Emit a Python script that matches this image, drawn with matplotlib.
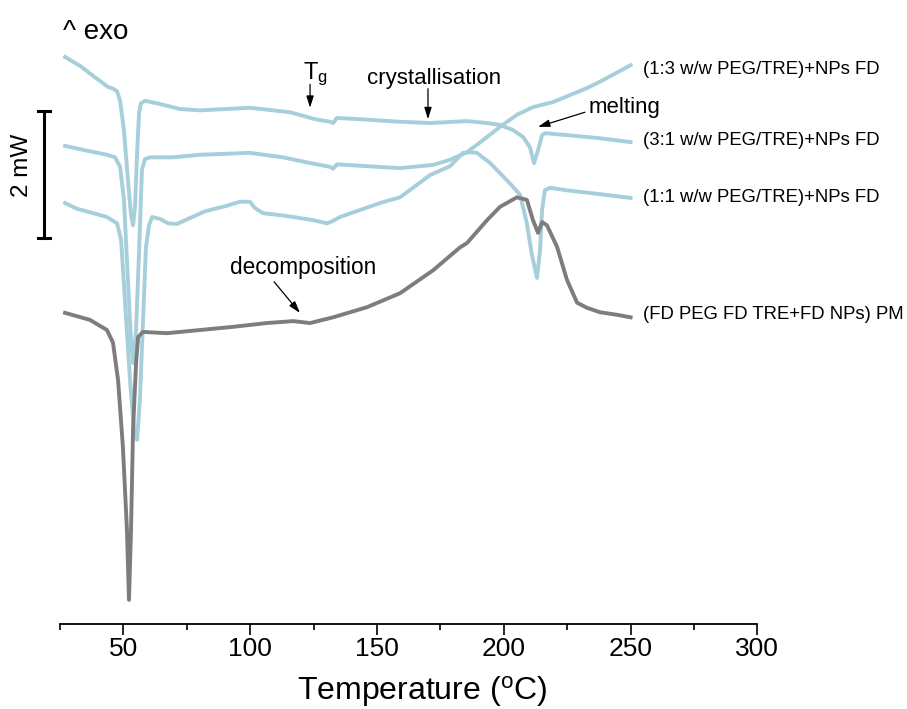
import matplotlib
matplotlib.use('Agg')
import matplotlib.pyplot as plt

plt.rcParams['font.family'] = ['Liberation Sans', 'DejaVu Sans']
plt.rcParams['mathtext.default'] = 'regular'

# DSC traces, temperature (C) vs heat flow (mW, curves stacked with offsets)
t_31 = [27.0, 32.9, 38.8, 43.9, 45.9, 47.5, 48.7, 50.2, 51.8, 53.0, 53.8, 54.6, 55.4, 56.2,
        56.9, 58.5, 64.4, 72.3, 80.2, 99.9, 115.7, 125.6, 131.5, 132.7, 134.2, 143.3, 159.1,
        170.9, 185.5, 193.4, 198.5, 203.6, 207.6, 210.3, 211.9, 213.5, 215.1, 216.2, 224.9,
        237.9, 250.0]
hf_31 = [8.93, 8.79, 8.61, 8.46, 8.43, 8.39, 8.24, 7.78, 6.99, 6.44, 6.28, 6.58, 7.42, 8.06,
         8.20, 8.24, 8.19, 8.11, 8.09, 8.13, 8.06, 7.95, 7.91, 7.89, 7.97, 7.95, 7.91,
         7.89, 7.92, 7.89, 7.86, 7.78, 7.67, 7.51, 7.26, 7.46, 7.70, 7.73, 7.70,
         7.65, 7.59]

t_13 = [27.0, 34.9, 43.5, 46.7, 48.7, 50.2, 51.8, 53.0, 53.8, 55.0, 56.2, 57.3, 58.5, 60.5,
        69.6, 80.2, 99.9, 112.9, 123.6, 131.5, 132.7, 134.2, 146.1, 159.1, 172.1, 178.8,
        185.5, 191.8, 198.5, 205.2, 211.5, 219.4, 232.8, 237.9, 250.0]
hf_13 = [7.53, 7.46, 7.39, 7.35, 7.20, 6.68, 5.42, 4.47, 4.11, 4.63, 5.89, 7.15, 7.32, 7.35,
         7.35, 7.39, 7.42, 7.35, 7.26, 7.20, 7.17, 7.24, 7.21, 7.18, 7.23, 7.31,
         7.43, 7.62, 7.83, 8.02, 8.14, 8.22, 8.44, 8.54, 8.80]

t_11 = [27.0, 31.7, 43.5, 47.5, 49.1, 50.6, 52.6, 54.2, 55.4, 56.5, 57.7, 58.9, 60.1, 61.3,
        64.4, 67.6, 71.1, 75.5, 82.2, 90.1, 96.0, 99.9, 101.9, 105.0, 113.7, 124.8, 130.3,
        132.7, 135.4, 151.2, 159.1, 164.2, 170.9, 178.8, 183.9, 186.7, 189.4, 194.6, 202.4,
        206.4, 209.1, 211.1, 213.1, 214.3, 215.1, 216.2, 218.2, 224.9, 237.9, 250.0]
hf_11 = [6.63, 6.54, 6.41, 6.31, 6.05, 5.10, 3.84, 3.06, 2.90, 3.53, 4.74, 5.94, 6.28, 6.41,
         6.38, 6.31, 6.30, 6.38, 6.50, 6.58, 6.65, 6.65, 6.55, 6.47, 6.43, 6.36, 6.31,
         6.35, 6.41, 6.63, 6.72, 6.87, 7.07, 7.21, 7.42, 7.43, 7.42, 7.26, 6.94,
         6.76, 6.31, 5.81, 5.45, 5.89, 6.52, 6.83, 6.87, 6.83, 6.77, 6.71]

t_pm = [27.0, 36.8, 43.5, 45.9, 47.9, 49.8, 51.4, 52.2, 53.0, 53.8, 55.0, 55.8, 57.7, 67.2,
        80.2, 93.2, 106.6, 116.9, 123.6, 132.7, 146.1, 159.1, 172.1, 182.7, 185.5, 193.4,
        198.5, 205.2, 209.1, 211.5, 213.5, 215.1, 217.0, 221.0, 224.9, 228.9, 232.8, 237.9,
        244.6, 250.0]
hf_pm = [4.90, 4.79, 4.63, 4.43, 3.84, 2.79, 1.48, 0.38, 1.48, 3.06, 4.11, 4.52, 4.60, 4.58,
         4.63, 4.68, 4.74, 4.77, 4.74, 4.83, 4.99, 5.21, 5.57, 5.93, 6.00, 6.36,
         6.57, 6.72, 6.68, 6.36, 6.16, 6.33, 6.28, 5.94, 5.42, 5.06, 4.98, 4.91,
         4.87, 4.83]

labels = ['(1:3 w/w PEG/TRE)+NPs FD', '(3:1 w/w PEG/TRE)+NPs FD',
          '(1:1 w/w PEG/TRE)+NPs FD', '(FD PEG FD TRE+FD NPs) PM']
label_y = [8.74, 7.61, 6.71, 4.88]

blue = '#a6cfdb'
grey = '#7d7d7d'

fig = plt.figure(figsize=(9.07, 7.09), dpi=100)
ax = fig.add_axes([60 / 907, 1 - 624 / 709, 697.4 / 907, 614 / 709])

ax.plot(t_31, hf_31, color=blue, lw=2.8, solid_joinstyle='round')
ax.plot(t_13, hf_13, color=blue, lw=2.8, solid_joinstyle='round')
ax.plot(t_11, hf_11, color=blue, lw=2.8, solid_joinstyle='round')
ax.plot(t_pm, hf_pm, color=grey, lw=2.8, solid_joinstyle='round')

for lab, y in zip(labels, label_y):
    ax.text(255, y, lab, fontsize=13.3, ha='left', va='center', clip_on=False)

arrow = dict(arrowstyle='-|>,head_length=0.7,head_width=0.22', color='k', lw=0.9,
             shrinkA=0, shrinkB=0)
ax.annotate('', xy=(123.6, 8.13), xytext=(123.6, 8.50), arrowprops=arrow)
ax.text(120.9, 8.58, 'T$_{g}$', fontsize=17, ha='left', va='baseline')
ax.annotate('', xy=(170.1, 7.95), xytext=(170.1, 8.43), arrowprops=arrow)
ax.text(172.5, 8.59, 'crystallisation', fontsize=16, ha='center', va='center')
ax.annotate('', xy=(213.5, 7.83), xytext=(232.0, 8.06), arrowprops=arrow)
ax.text(233.6, 8.14, 'melting', fontsize=16, ha='left', va='center')
ax.annotate('', xy=(119.6, 4.90), xytext=(109.4, 5.39), arrowprops=arrow)
ax.text(120.8, 5.61, 'decomposition', fontsize=16.3, ha='center', va='center')

# 2 mW scale bar
ax.plot([18.7, 18.7], [6.08, 8.08], color='k', lw=2.2, clip_on=False)
ax.plot([16.5, 20.9], [8.08, 8.08], color='k', lw=2.2, clip_on=False)
ax.plot([16.5, 20.9], [6.08, 6.08], color='k', lw=2.2, clip_on=False)
ax.text(10.0, 7.23, '2 mW', fontsize=17.5, rotation=90, ha='center', va='center')
ax.text(26.2, 9.22, '^ exo', fontsize=20, ha='left', va='baseline')

ax.set_xlim(25, 300)
ax.set_ylim(0, 9.67)
ax.set_xticks([50, 100, 150, 200, 250, 300])
ax.set_xticks([25, 75, 125, 175, 225, 275], minor=True)
ax.set_yticks([])
for s in ['left', 'top', 'right']:
    ax.spines[s].set_visible(False)
ax.spines['bottom'].set_linewidth(1.3)
ax.tick_params(axis='x', which='major', direction='out', length=8, width=1.2,
               labelsize=19, pad=1)
ax.tick_params(axis='x', which='minor', direction='out', length=4, width=1.2)
ax.set_xlabel('Temperature ($^{o}$C)', fontsize=23)
ax.xaxis.set_label_coords(0.519, -0.081)

fig.savefig('out.png', dpi=100)
